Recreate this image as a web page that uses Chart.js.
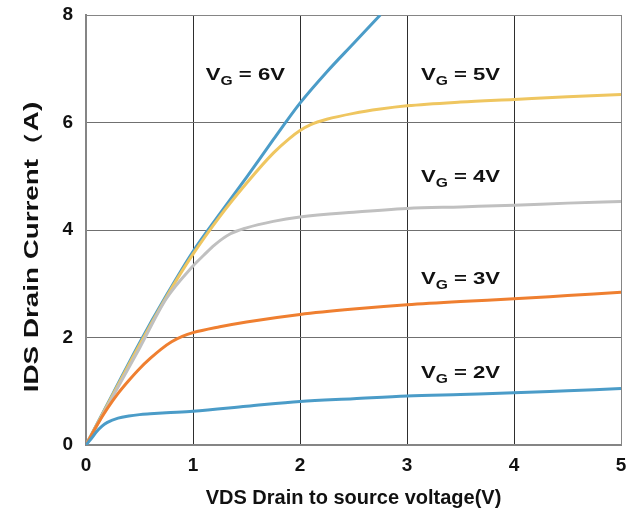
<!DOCTYPE html>
<html>
<head>
<meta charset="utf-8">
<script src="https://cdn.jsdelivr.net/npm/chart.js@4"></script>
<style>
  html, body { margin: 0; padding: 0; background: #fff; }
  #wrap { width: 637px; height: 514px; }
</style>
</head>
<body>
<div id="wrap"><canvas id="idsChart"></canvas></div>
<script>
// Output characteristics: drain current vs drain-source voltage per gate voltage
const vds6 = [0, 0.25, 0.5, 0.75, 1, 1.25, 1.5, 1.75, 2, 2.25, 2.5, 2.75];
const ids6 = [0, 0.95, 1.9, 2.78, 3.6, 4.3, 4.98, 5.68, 6.36, 6.94, 7.47, 8];

const vds5 = [0, 0.25, 0.5, 0.75, 1, 1.25, 1.5, 1.75, 1.9, 2, 2.1, 2.25, 2.5, 2.75, 3, 3.5, 4, 4.5, 5];
const ids5 = [0, 0.93, 1.86, 2.75, 3.55, 4.25, 4.87, 5.43, 5.7, 5.85, 5.96, 6.06, 6.17, 6.25, 6.31, 6.38, 6.43, 6.48, 6.52];

const vds4 = [0, 0.25, 0.5, 0.75, 1, 1.1, 1.2, 1.35, 1.5, 1.75, 2, 2.5, 3, 3.5, 4, 4.5, 5];
const ids4 = [0, 0.9, 1.8, 2.72, 3.33, 3.53, 3.72, 3.93, 4.04, 4.16, 4.24, 4.33, 4.4, 4.43, 4.46, 4.5, 4.53];

const vds3 = [0, 0.1, 0.2, 0.3, 0.4, 0.5, 0.6, 0.7, 0.8, 0.9, 1, 1.25, 1.5, 2, 2.5, 3, 3.5, 4, 4.5, 5];
const ids3 = [0, 0.36, 0.68, 0.96, 1.2, 1.42, 1.61, 1.78, 1.92, 2.02, 2.09, 2.2, 2.29, 2.43, 2.53, 2.61, 2.67, 2.72, 2.78, 2.84];

const vds2 = [0, 0.05, 0.1, 0.15, 0.2, 0.3, 0.4, 0.5, 0.6, 0.75, 1, 1.5, 2, 2.5, 3, 3.5, 4, 4.5, 5];
const ids2 = [0, 0.12, 0.25, 0.35, 0.42, 0.5, 0.54, 0.565, 0.58, 0.6, 0.63, 0.72, 0.81, 0.86, 0.91, 0.94, 0.97, 1.01, 1.05];

const gateLabels = ['6V', '5V', '4V', '3V', '2V'];
const xTicks = [0, 1, 2, 3, 4, 5];
const yTicks = [0, 2, 4, 6, 8];
const xTitle = 'VDS Drain to source voltage(V)';
const yTitle = 'IDS Drain Current（A)';

const seriesColors = ['#4b9cc8', '#efc660', '#c0c0c0', '#ef7f30', '#4b9cc8'];
// where each "VG = ..." caption sits (left edge, baseline) in axis units
const captionAt = [[1.12, 6.8], [3.13, 6.8], [3.13, 4.89], [3.13, 3.0], [3.13, 1.25]];

const seriesX = [vds6, vds5, vds4, vds3, vds2];
const seriesY = [ids6, ids5, ids4, ids3, ids2];

const toPoints = (xs, ys) => xs.map((x, i) => ({x: x, y: ys[i]}));

const datasets = gateLabels.map((g, i) => ({
    label: 'VG = ' + g,
    data: toPoints(seriesX[i], seriesY[i]),
    borderColor: seriesColors[i],
    borderWidth: 3,
    pointRadius: 0,
    cubicInterpolationMode: 'monotone',
    fill: false
}));
// draw 2V first so the taller curves lie above it
datasets.reverse();

const fontFamily = 'Arial, "Liberation Sans", Helvetica, sans-serif';

// captions with a subscript G, set a little wide
const gateCaptions = {
    id: 'gateCaptions',
    afterDatasetsDraw(chart) {
        const {ctx, scales: {x, y}} = chart;
        ctx.save();
        ctx.fillStyle = '#111';
        ctx.textBaseline = 'alphabetic';
        ctx.textAlign = 'left';
        gateLabels.forEach((g, i) => {
            ctx.save();
            ctx.translate(x.getPixelForValue(captionAt[i][0]), y.getPixelForValue(captionAt[i][1]));
            ctx.scale(1.3, 1);
            let px = 0;
            ctx.font = 'bold 17px ' + fontFamily;
            ctx.fillText('V', px, 0);
            px += ctx.measureText('V').width;
            ctx.font = 'bold 12px ' + fontFamily;
            ctx.fillText('G', px, 5);
            px += ctx.measureText('G').width;
            ctx.font = 'bold 17px ' + fontFamily;
            ctx.fillText(' = ' + g, px, 0);
            ctx.restore();
        });
        ctx.restore();
    }
};

// rotated y title, stretched along its length
const yAxisTitle = {
    id: 'yAxisTitle',
    afterDraw(chart) {
        const {ctx, chartArea} = chart;
        ctx.save();
        ctx.translate(32, (chartArea.top + chartArea.bottom) / 2 + 17);
        ctx.rotate(-Math.PI / 2);
        ctx.scale(1.39, 1);
        ctx.font = 'bold 20px ' + fontFamily;
        ctx.fillStyle = '#111';
        ctx.textAlign = 'center';
        ctx.textBaseline = 'middle';
        ctx.fillText(yTitle, 0, 0);
        ctx.restore();
    }
};

new Chart(document.getElementById('idsChart'), {
    type: 'line',
    data: {datasets: datasets},
    options: {
        responsive: true,
        maintainAspectRatio: false,
        animation: false,
        layout: {padding: {left: 0, right: 16, top: 15, bottom: 0}},
        plugins: {legend: {display: false}, tooltip: {enabled: false}},
        scales: {
            x: {
                type: 'linear',
                min: 0,
                max: 5,
                afterBuildTicks: (s) => { s.ticks = xTicks.map(v => ({value: v})); },
                afterFit: (s) => { s.height = 69; s.paddingLeft = 0; s.paddingRight = 0; },
                grid: {
                    color: (c) => (c.tick && (c.tick.value === 0 || c.tick.value === 5)) ? '#858585' : '#2e2e2e',
                    lineWidth: 1,
                    drawTicks: false
                },
                border: {color: '#858585', width: 2},
                ticks: {
                    color: '#111',
                    padding: 9,
                    maxRotation: 0,
                    font: {family: fontFamily, size: 19, weight: 'bold'}
                },
                title: {
                    display: true,
                    text: xTitle,
                    color: '#111',
                    padding: {top: 2, bottom: 4},
                    font: {family: fontFamily, size: 20, weight: 'bold'}
                }
            },
            y: {
                type: 'linear',
                min: 0,
                max: 8,
                afterBuildTicks: (s) => { s.ticks = yTicks.map(v => ({value: v})); },
                afterFit: (s) => { s.width = 86; s.paddingTop = 0; s.paddingBottom = 0; },
                grid: {
                    color: (c) => (c.tick && c.tick.value === 8) ? '#858585' : '#707070',
                    lineWidth: 1,
                    drawTicks: false
                },
                border: {color: '#858585', width: 2},
                ticks: {
                    color: '#111',
                    padding: 13,
                    font: {family: fontFamily, size: 19, weight: 'bold'}
                }
            }
        }
    },
    plugins: [gateCaptions, yAxisTitle]
});
</script>
</body>
</html>
